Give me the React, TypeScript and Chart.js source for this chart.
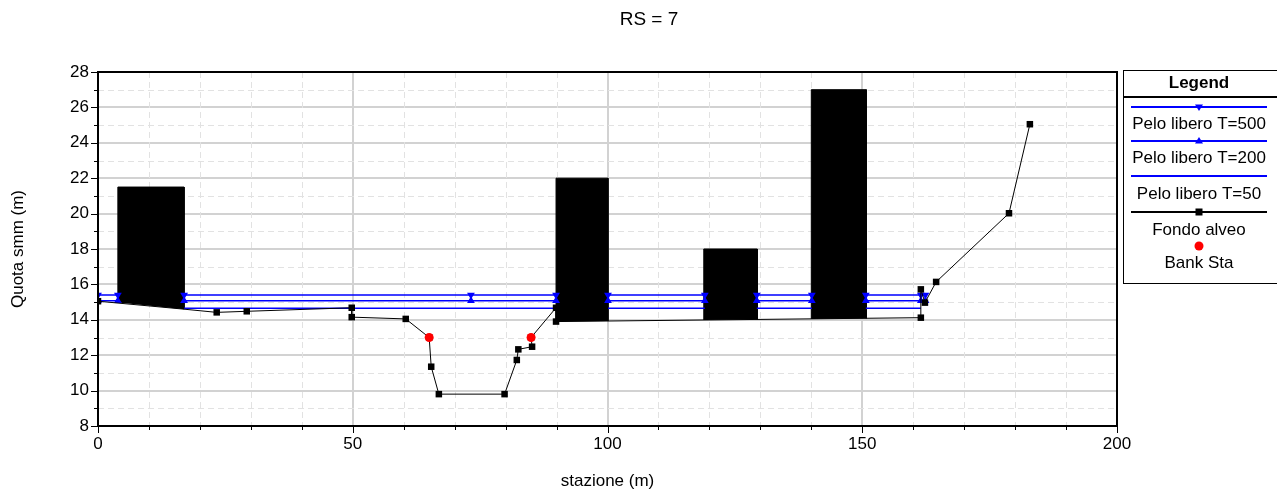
import React, { useEffect, useRef } from 'react';
import { Chart, registerables } from 'chart.js';

Chart.register(...registerables);

const FONT = '"Liberation Sans", Arial, Helvetica, sans-serif';
const BLUE = '#0000ff';

// Ground profile (Fondo alveo)
const groundStations = [0, 16.9, 23.3, 29.2, 49.8, 49.8, 60.4, 65.0, 65.4, 66.9, 79.8, 82.2, 82.5, 85.2, 85.0, 89.9, 89.9, 161.5, 161.5, 162.3, 164.5, 178.8, 182.9];
const groundElev = [15.05, 14.6, 14.42, 14.48, 14.68, 14.15, 14.05, 13.0, 11.35, 9.8, 9.8, 11.73, 12.33, 12.48, 13.0, 14.68, 13.9, 14.12, 15.72, 14.97, 16.14, 20.02, 25.05];
const groundMarked = [true, false, true, true, true, true, true, true, true, true, true, true, true, true, true, true, true, true, true, true, true, true, true];

// Bank stations
const bankStations = [65.0, 85.0];
const bankElev = [13.0, 13.0];

// Obstructions (blocks)
const blockLeft = [3.9, 89.9, 118.9, 140.0];
const blockRight = [16.9, 100.1, 129.4, 150.8];
const blockTop = [21.5, 22.0, 18.0, 27.0];
const blockBaseLeft = [14.98, 13.9, 13.99, 14.05];
const blockBaseRight = [14.6, 13.93, 14.02, 14.08];

// Water surfaces
const wsStations = [0, 3.9, 16.9, 73.2, 89.9, 100.1, 119.1, 129.3, 140.1, 150.7, 161.5, 162.4];
const t500Levels = [15.4, 15.4, 15.4, 15.4, 15.4, 15.4, 15.4, 15.4, 15.4, 15.4, 15.4, 15.4];
const t200Levels = [15.08, 15.08, 15.08, 15.08, 15.08, 15.08, 15.08, 15.08, 15.08, 15.08, 15.08, 15.08];
const t50Stations = [16.9, 89.9, 100.1, 119.1, 129.3, 140.1, 150.7, 161.5];
const t50Levels = [14.65, 14.65, 14.65, 14.65, 14.65, 14.65, 14.65, 14.65];

// Axes
const xMin = 0, xMax = 200, xMinor = 10, xMajor = 50;
const yMin = 8, yMax = 28, yMinor = 1, yMajor = 2;

const TITLE = 'RS = 7';
const X_TITLE = 'stazione (m)';
const Y_TITLE = 'Quota smm (m)';
const legendLabels = ['Pelo libero T=500', 'Pelo libero T=200', 'Pelo libero T=50', 'Fondo alveo', 'Bank Sta'];

function insideBlock(a: number, b: number) {
  const m = (a + b) / 2;
  for (let i = 0; i < blockLeft.length; i++) {
    if (m > blockLeft[i] && m < blockRight[i]) return true;
  }
  return false;
}

function withGaps(xs: number[], ys: number[]) {
  const out: { x: number; y: number | null }[] = [];
  for (let i = 0; i < xs.length; i++) {
    out.push({ x: xs[i], y: ys[i] });
    if (i < xs.length - 1 && insideBlock(xs[i], xs[i + 1])) {
      out.push({ x: (xs[i] + xs[i + 1]) / 2, y: null });
    }
  }
  return out;
}

function drawMarker(ctx: CanvasRenderingContext2D, kind: string, x: number, y: number, color: string) {
  ctx.save();
  ctx.fillStyle = color;
  ctx.beginPath();
  if (kind === 'down') {
    ctx.moveTo(x - 4, y - 2.5);
    ctx.lineTo(x + 4, y - 2.5);
    ctx.lineTo(x, y + 4);
    ctx.closePath();
    ctx.fill();
  } else if (kind === 'up') {
    ctx.moveTo(x - 4, y + 2.5);
    ctx.lineTo(x + 4, y + 2.5);
    ctx.lineTo(x, y - 4);
    ctx.closePath();
    ctx.fill();
  } else if (kind === 'square') {
    ctx.fillRect(x - 3.5, y - 3.5, 7, 7);
  } else if (kind === 'circle') {
    ctx.arc(x, y, 4.5, 0, Math.PI * 2);
    ctx.fill();
  }
  ctx.restore();
}

const decorPlugin = {
  id: 'decor',
  beforeDatasetsDraw(chart: any) {
    const { ctx, chartArea } = chart;
    const xs = chart.scales.x;
    const ys = chart.scales.y;
    ctx.save();
    ctx.strokeStyle = '#e2e2e2';
    ctx.lineWidth = 1;
    ctx.setLineDash([6, 4]);
    for (let v = xMin; v <= xMax; v += xMinor) {
      if (v % xMajor === 0) continue;
      const px = Math.round(xs.getPixelForValue(v)) + 0.5;
      ctx.beginPath();
      ctx.moveTo(px, chartArea.top);
      ctx.lineTo(px, chartArea.bottom);
      ctx.stroke();
    }
    for (let v = yMin; v <= yMax; v += yMinor) {
      if (v % yMajor === 0) continue;
      const py = Math.round(ys.getPixelForValue(v)) + 0.5;
      ctx.beginPath();
      ctx.moveTo(chartArea.left, py);
      ctx.lineTo(chartArea.right, py);
      ctx.stroke();
    }
    ctx.restore();
  },
  afterDraw(chart: any) {
    const { ctx, chartArea } = chart;
    const xs = chart.scales.x;
    const ys = chart.scales.y;
    ctx.save();
    // frame
    ctx.strokeStyle = '#000';
    ctx.lineWidth = 2;
    ctx.strokeRect(chartArea.left, chartArea.top, chartArea.right - chartArea.left, chartArea.bottom - chartArea.top);
    // tick marks
    ctx.lineWidth = 1;
    for (let v = xMin; v <= xMax; v += xMinor) {
      const px = Math.round(xs.getPixelForValue(v)) + 0.5;
      const len = v % xMajor === 0 ? 7 : 4;
      ctx.beginPath();
      ctx.moveTo(px, chartArea.bottom);
      ctx.lineTo(px, chartArea.bottom + len);
      ctx.stroke();
    }
    for (let v = yMin; v <= yMax; v += yMinor) {
      const py = Math.round(ys.getPixelForValue(v)) + 0.5;
      const len = v % yMajor === 0 ? 7 : 4;
      ctx.beginPath();
      ctx.moveTo(chartArea.left, py);
      ctx.lineTo(chartArea.left - len, py);
      ctx.stroke();
    }
    // title
    ctx.fillStyle = '#000';
    ctx.font = `19px ${FONT}`;
    ctx.textAlign = 'center';
    ctx.textBaseline = 'middle';
    ctx.fillText(TITLE, 649, 20);

    // legend
    const lx = 1123, ly = 70, lw = 170, lh = 213;
    ctx.lineWidth = 1;
    ctx.strokeStyle = '#000';
    ctx.strokeRect(lx + 0.5, ly + 0.5, lw, lh);
    ctx.lineWidth = 2;
    ctx.beginPath();
    ctx.moveTo(lx, 97);
    ctx.lineTo(1277, 97);
    ctx.stroke();
    ctx.font = `bold 17px ${FONT}`;
    ctx.fillText('Legend', 1199, 83);
    const cx = 1199;
    const items = [
      { lineY: 107, textY: 124, color: BLUE, marker: 'down', line: true },
      { lineY: 141, textY: 158, color: BLUE, marker: 'up', line: true },
      { lineY: 176, textY: 194, color: BLUE, marker: '', line: true },
      { lineY: 212, textY: 230, color: '#000', marker: 'square', line: true },
      { lineY: 246, textY: 263, color: '#ff0000', marker: 'circle', line: false },
    ];
    items.forEach((it, i) => {
      if (it.line) {
        ctx.strokeStyle = it.color;
        ctx.lineWidth = 2;
        ctx.beginPath();
        ctx.moveTo(1131, it.lineY);
        ctx.lineTo(1267, it.lineY);
        ctx.stroke();
      }
      if (it.marker) drawMarker(ctx, it.marker, cx, it.lineY, it.color);
      ctx.fillStyle = '#000';
      ctx.font = `17px ${FONT}`;
      ctx.fillText(legendLabels[i], cx, it.textY);
    });
    ctx.restore();
  },
};

export default function App() {
  const ref = useRef<HTMLCanvasElement | null>(null);

  useEffect(() => {
    if (!ref.current) return;

    const blockSets = blockLeft.map((l, i) => ({
      label: 'block' + i,
      data: [
        { x: l, y: blockBaseLeft[i] },
        { x: l, y: blockTop[i] },
        { x: blockRight[i], y: blockTop[i] },
        { x: blockRight[i], y: blockBaseRight[i] },
      ],
      borderColor: '#000',
      borderWidth: 1,
      backgroundColor: '#000',
      fill: 'shape',
      pointRadius: 0,
      tension: 0,
      order: 10,
    }));

    const chart = new Chart(ref.current, {
      type: 'line',
      data: {
        datasets: [
          {
            label: legendLabels[4],
            data: bankStations.map((x, i) => ({ x, y: bankElev[i] })),
            showLine: false,
            pointStyle: 'circle',
            pointRadius: 4.5,
            pointBackgroundColor: '#ff0000',
            pointBorderColor: '#ff0000',
            pointBorderWidth: 0,
            order: 0,
          },
          {
            label: legendLabels[3],
            data: groundStations.map((x, i) => ({ x, y: groundElev[i] })),
            borderColor: '#000',
            borderWidth: 1,
            pointStyle: 'rect',
            pointRadius: groundMarked.map((m) => (m ? 4.6 : 0)),
            pointBackgroundColor: '#000',
            pointBorderColor: '#000',
            pointBorderWidth: 0,
            fill: false,
            tension: 0,
            order: 1,
          },
          {
            label: legendLabels[0],
            data: withGaps(wsStations, t500Levels),
            borderColor: BLUE,
            borderWidth: 1.6,
            pointStyle: 'triangle',
            rotation: 180,
            pointRadius: 4.5,
            pointBackgroundColor: BLUE,
            pointBorderColor: BLUE,
            pointBorderWidth: 0,
            spanGaps: false,
            fill: false,
            tension: 0,
            order: 2,
          },
          {
            label: legendLabels[1],
            data: withGaps(wsStations, t200Levels),
            borderColor: BLUE,
            borderWidth: 1.6,
            pointStyle: 'triangle',
            pointRadius: 4.5,
            pointBackgroundColor: BLUE,
            pointBorderColor: BLUE,
            pointBorderWidth: 0,
            spanGaps: false,
            fill: false,
            tension: 0,
            order: 3,
          },
          {
            label: legendLabels[2],
            data: withGaps(t50Stations, t50Levels),
            borderColor: BLUE,
            borderWidth: 1.6,
            pointRadius: 0,
            spanGaps: false,
            fill: false,
            tension: 0,
            order: 4,
          },
          ...blockSets,
        ] as any,
      },
      options: {
        responsive: false,
        animation: false,
        events: [],
        layout: { padding: { left: 0, right: 160, top: 72, bottom: 0 } },
        plugins: {
          legend: { display: false },
          title: { display: false },
          tooltip: { enabled: false },
        },
        scales: {
          x: {
            type: 'linear',
            min: xMin,
            max: xMax,
            afterFit: (s: any) => { s.height = 68; },
            border: { display: true, color: '#000', width: 2 },
            grid: {
              drawTicks: false,
              lineWidth: 2,
              color: (c: any) => (c.tick && c.tick.value % xMajor === 0 ? '#d2d2d2' : 'rgba(0,0,0,0)'),
            },
            ticks: {
              stepSize: xMinor,
              autoSkip: false,
              maxRotation: 0,
              padding: 8,
              color: '#000',
              font: { family: FONT, size: 17 },
              callback: (v: any) => (Number(v) % xMajor === 0 ? String(v) : ''),
            },
            title: {
              display: true,
              text: X_TITLE,
              color: '#000',
              font: { family: FONT, size: 17 },
              padding: { top: 0, bottom: 2 },
            },
          },
          y: {
            type: 'linear',
            min: yMin,
            max: yMax,
            afterFit: (s: any) => { s.width = 98; },
            border: { display: true, color: '#000', width: 2 },
            grid: {
              drawTicks: false,
              lineWidth: 2,
              color: (c: any) => (c.tick && c.tick.value % yMajor === 0 ? '#d2d2d2' : 'rgba(0,0,0,0)'),
            },
            ticks: {
              stepSize: yMinor,
              autoSkip: false,
              padding: 9,
              color: '#000',
              font: { family: FONT, size: 17 },
              callback: (v: any) => (Number(v) % yMajor === 0 ? String(v) : ''),
            },
            title: {
              display: true,
              text: Y_TITLE,
              color: '#000',
              font: { family: FONT, size: 17 },
              padding: { top: 8, bottom: 0 },
            },
          },
        },
      } as any,
      plugins: [decorPlugin],
    });

    return () => chart.destroy();
  }, []);

  return (
    <div style={{ position: 'absolute', left: 0, top: 0, width: 1277, height: 494, background: '#fff' }}>
      <canvas ref={ref} width={1277} height={494} />
    </div>
  );
}
